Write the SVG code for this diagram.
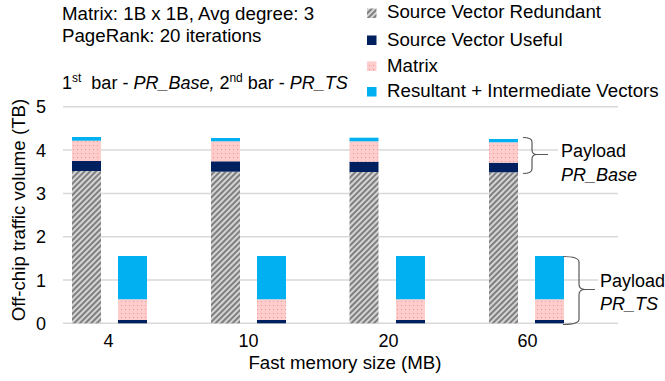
<svg xmlns="http://www.w3.org/2000/svg" width="665" height="381" viewBox="0 0 665 381">
  <style>
    text { font-family: "Liberation Sans", Arial, sans-serif; font-size: 18.7px; fill: #000; }
    .grid { stroke: #d9d9d9; stroke-width: 1.5; fill: none; }
    .tick { text-anchor: middle; font-size: 18px; }
    .note { font-size: 18px; }
    .brace { stroke: #595959; stroke-width: 1.2; fill: none; }
    .redundant { fill: url(#hatch); }
    .useful { fill: #002060; }
    .matrix { fill: url(#dots); }
    .result { fill: #00b0f0; }
    .it { font-style: italic; }
  </style>
  <defs>
    <pattern id="hatch" patternUnits="userSpaceOnUse" width="4" height="4" patternTransform="rotate(45)">
      <rect width="4" height="4" fill="#d4d4d4"/>
      <rect width="2" height="4" fill="#7f7f7f"/>
    </pattern>
    <pattern id="dots" patternUnits="userSpaceOnUse" width="4" height="4">
      <rect width="4" height="4" fill="#ffcccc"/>
      <rect x="1" y="1" width="1" height="1" fill="#e89a9a"/>
    </pattern>
  </defs>

  <rect width="665" height="381" fill="#fff"/>

  <!-- gridlines -->
  <g id="gridlines">
    <line class="grid" x1="63" y1="106.8" x2="618" y2="106.8"/>
    <line class="grid" x1="63" y1="150.1" x2="618" y2="150.1"/>
    <line class="grid" x1="63" y1="193.4" x2="618" y2="193.4"/>
    <line class="grid" x1="63" y1="236.7" x2="618" y2="236.7"/>
    <line class="grid" x1="63" y1="280" x2="618" y2="280"/>
    <line class="grid" x1="63" y1="323.3" x2="618" y2="323.3"/>
  </g>

  <!-- y axis -->
  <g id="y-axis">
    <text class="tick" x="41" y="113.3">5</text>
    <text class="tick" x="41" y="156.6">4</text>
    <text class="tick" x="41" y="199.9">3</text>
    <text class="tick" x="41" y="243.2">2</text>
    <text class="tick" x="41" y="286.5">1</text>
    <text class="tick" x="41" y="329.8">0</text>
    <text transform="translate(25,210) rotate(-90)" text-anchor="middle">Off-chip traffic volume (TB)</text>
  </g>

  <!-- x axis -->
  <g id="x-axis">
    <text class="tick" x="108.5" y="347">4</text>
    <text class="tick" x="248.5" y="347">10</text>
    <text class="tick" x="388.5" y="347">20</text>
    <text class="tick" x="527.5" y="347">60</text>
    <text x="345" y="369" text-anchor="middle">Fast memory size (MB)</text>
  </g>

  <!-- PR_Base bars -->
  <g id="bars-base">
    <rect class="redundant" x="72" y="171" width="29" height="152.3"/>
    <rect class="useful" x="72" y="161" width="29" height="10"/>
    <rect class="matrix" x="72" y="140.7" width="29" height="20.3"/>
    <rect class="result" x="72" y="137" width="29" height="3.7"/>

    <rect class="redundant" x="211" y="171.7" width="29" height="151.6"/>
    <rect class="useful" x="211" y="161.3" width="29" height="10.4"/>
    <rect class="matrix" x="211" y="141.3" width="29" height="20"/>
    <rect class="result" x="211" y="138" width="29" height="3.3"/>

    <rect class="redundant" x="349.5" y="172" width="29" height="151.3"/>
    <rect class="useful" x="349.5" y="161.7" width="29" height="10.3"/>
    <rect class="matrix" x="349.5" y="141.3" width="29" height="20.4"/>
    <rect class="result" x="349.5" y="137.7" width="29" height="3.6"/>

    <rect class="redundant" x="489" y="172.3" width="29" height="151"/>
    <rect class="useful" x="489" y="162.7" width="29" height="9.6"/>
    <rect class="matrix" x="489" y="142.3" width="29" height="20.4"/>
    <rect class="result" x="489" y="139" width="29" height="3.3"/>
  </g>

  <!-- PR_TS bars -->
  <g id="bars-ts">
    <rect class="useful" x="118" y="320" width="29" height="3.3"/>
    <rect class="matrix" x="118" y="299.3" width="29" height="20.7"/>
    <rect class="result" x="118" y="256" width="29" height="43.3"/>

    <rect class="useful" x="257" y="320" width="29" height="3.3"/>
    <rect class="matrix" x="257" y="299.3" width="29" height="20.7"/>
    <rect class="result" x="257" y="256" width="29" height="43.3"/>

    <rect class="useful" x="396" y="320" width="29" height="3.3"/>
    <rect class="matrix" x="396" y="299.3" width="29" height="20.7"/>
    <rect class="result" x="396" y="256" width="29" height="43.3"/>

    <rect class="useful" x="535" y="320" width="29" height="3.3"/>
    <rect class="matrix" x="535" y="299.3" width="29" height="20.7"/>
    <rect class="result" x="535" y="256" width="29" height="43.3"/>
  </g>

  <!-- payload annotations -->
  <g id="payload-base">
    <rect x="558" y="140" width="107" height="46" fill="#fff"/>
    <path class="brace" d="M523,137.5 Q532,137.5 532,142 L532,150 Q532,154.5 537,154.5 L548,154.5 M537,154.5 Q532,154.5 532,159 L532,169 Q532,173.5 523,173.5"/>
    <text class="note" x="561" y="157">Payload</text>
    <text class="note it" x="561" y="181">PR_Base</text>
  </g>
  <g id="payload-ts">
    <rect x="598" y="268" width="67" height="48" fill="#fff"/>
    <path class="brace" d="M563,256.5 Q579,256.5 579,262 L579,284 Q579,289.5 585,289.5 L595,289.5 M585,289.5 Q579,289.5 579,295 L579,319 Q579,324.5 563,324.5"/>
    <text class="note" x="600" y="286.7">Payload</text>
    <text class="note it" x="600" y="310">PR_TS</text>
  </g>

  <!-- chart notes -->
  <g id="notes">
    <text x="62" y="20">Matrix: 1B x 1B, Avg degree: 3</text>
    <text x="62" y="42">PageRank: 20 iterations</text>
    <text class="note" x="62" y="89" xml:space="preserve">1<tspan font-size="12" dy="-7">st</tspan><tspan dy="7">  bar - </tspan><tspan class="it">PR_Base,</tspan> 2<tspan font-size="12" dy="-7">nd</tspan><tspan dy="7"> bar - </tspan><tspan class="it">PR_TS</tspan></text>
  </g>

  <!-- legend -->
  <g id="legend">
    <rect class="redundant" x="367" y="8.5" width="9.5" height="9.5"/>
    <text x="387" y="18">Source Vector Redundant</text>
    <rect class="useful" x="367" y="35.5" width="9.5" height="9.5"/>
    <text x="387" y="45.5">Source Vector Useful</text>
    <rect class="matrix" x="367" y="61.5" width="9.5" height="9.5"/>
    <text x="387" y="71.5">Matrix</text>
    <rect class="result" x="367" y="87" width="9.5" height="9.5"/>
    <text x="387" y="97">Resultant + Intermediate Vectors</text>
  </g>
</svg>
